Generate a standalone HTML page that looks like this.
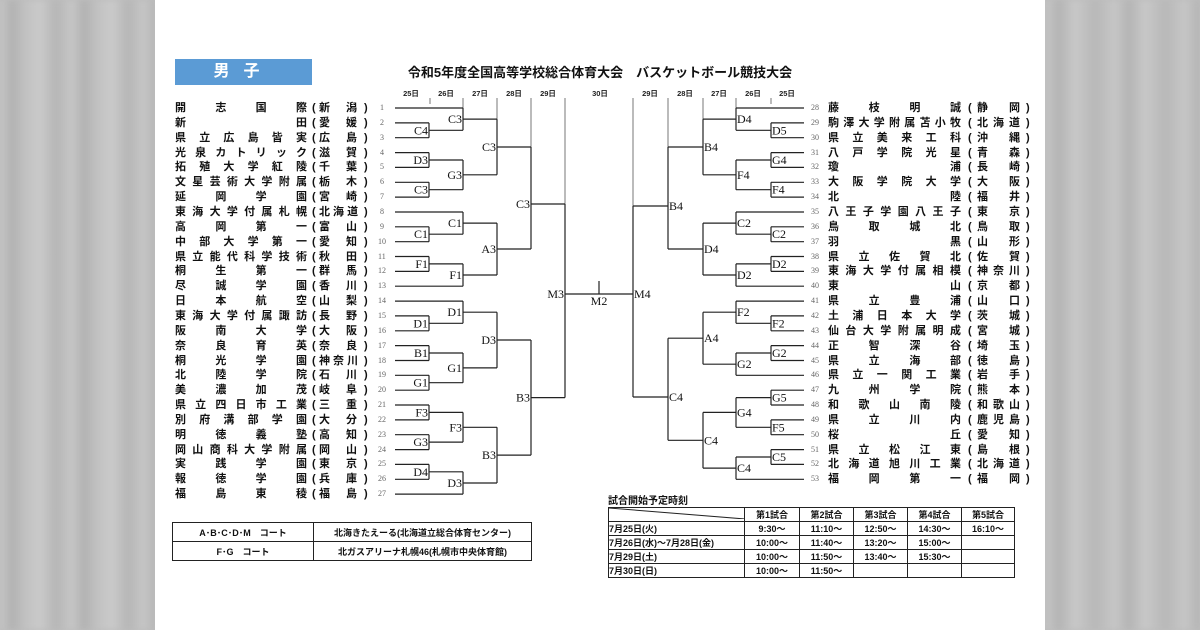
<!DOCTYPE html>
<html><head><meta charset="utf-8">
<style>
*{margin:0;padding:0}
body{width:1200px;height:630px;position:relative;overflow:hidden;background:#bdbdbd;font-family:"Liberation Sans","Noto Sans CJK JP",sans-serif}
.bgl{position:absolute;top:0;left:0;width:155px;height:630px;background:repeating-linear-gradient(90deg,#c6c6c6 0,#b2b2b2 12px,#c2c2c2 26px,#cacaca 40px,#b6b6b6 56px,#c6c6c6 72px);filter:blur(3px)}
.bgr{position:absolute;top:0;left:1045px;width:155px;height:630px;background:repeating-linear-gradient(90deg,#c6c6c6 0,#b4b4b4 14px,#c8c8c8 30px,#b8b8b8 50px,#c6c6c6 70px);filter:blur(3px)}
.page{position:absolute;left:155px;top:0;width:890px;height:630px;background:#fff}
.blue{position:absolute;left:175px;top:59px;width:137px;height:26px;background:#5b9bd5;color:#fff;font-weight:bold;font-size:16px;line-height:26px;text-align:center;letter-spacing:14px}
.title{position:absolute;left:300px;width:600px;top:64px;text-align:center;font-weight:bold;font-size:13px;line-height:18px;color:#111}
.r{position:absolute;height:16px;line-height:16px;font-size:11px;font-weight:600;color:#111;white-space:nowrap}
.j{text-align:justify;text-align-last:justify}
.num{position:absolute;font-family:"Liberation Serif",serif;font-size:8px;color:#666;line-height:16px;height:16px}
table{border-collapse:collapse;position:absolute}
td{border:1px solid #222;font-size:9px;font-weight:bold;text-align:center;padding:0;color:#111}
</style></head><body>
<div class="bgl"></div><div class="bgr"></div>
<div class="page"></div>
<div class="blue">男子</div>
<div class="title">令和5年度全国高等学校総合体育大会　バスケットボール競技大会</div>

<svg style="position:absolute;left:0;top:0" width="1200" height="630" font-family="Liberation Serif,serif">
<g font-family="Liberation Sans,Noto Sans CJK JP,sans-serif" font-size="7.5" font-weight="bold" fill="#222" text-anchor="middle">
<text x="411" y="96">25日</text><text x="446" y="96">26日</text><text x="480" y="96">27日</text><text x="514" y="96">28日</text><text x="548" y="96">29日</text><text x="600" y="96">30日</text>
<text x="650" y="96">29日</text><text x="685" y="96">28日</text><text x="719" y="96">27日</text><text x="753" y="96">26日</text><text x="787" y="96">25日</text>
</g>
<g stroke="#777" stroke-width="1" fill="none">
<path d="M430 98V104M463 98V108M497 98V119M531 98V147M565 98V204M633 98V206M668 98V147M703 98V119M736 98V108M771 98V104"/>
</g>
<g stroke="#222" stroke-width="1.2" fill="none">
<path d="M395 108H463M395 122.9H429M395 137.7H429M395 152.6H429M395 167.4H429M395 182.3H429M395 197.1H429M395 212H463M395 226.8H429M395 241.7H429M395 256.5H429M395 271.4H429M395 286.2H463M395 301.1H463M395 315.9H429M395 330.8H429M395 345.6H429M395 360.5H429M395 375.3H429M395 390.2H429M395 405H429M395 419.9H429M395 434.7H429M395 449.6H429M395 464.4H429M395 479.3H429M395 494.1H463"/>
<path d="M429 122.9V137.7M429 130.3H463M429 152.6V167.4M429 160H463M429 182.3V197.1M429 189.7H463M429 226.8V241.7M429 234.2H463M429 256.5V271.4M429 263.9H463M429 315.9V330.8M429 323.3H463M429 345.6V360.5M429 353H463M429 375.3V390.2M429 382.7H463M429 405V419.9M429 412.4H463M429 434.7V449.6M429 442.1H463M429 464.4V479.3M429 471.8H463"/>
<path d="M463 108V130.3M463 119.1H497M463 160V189.7M463 174.8H497M463 212V234.2M463 223.1H497M463 263.9V286.2M463 275H497M463 301.1V323.3M463 312.2H497M463 353V382.7M463 367.9H497M463 412.4V442.1M463 427.3H497M463 471.8V494.1M463 483H497"/>
<path d="M497 119.1V174.8M497 147H531M497 223.1V275M497 249H531M497 312.2V367.9M497 340H531M497 427.3V483M497 455.1H531"/>
<path d="M531 147V249M531 204H565M531 340V455.1M531 397.6H565"/>
<path d="M565 204V397.6M565 294H633M599 281V294M633 206V397M633 206H668M633 397H668"/>
<path d="M804 108H736M804 122.9H771M804 137.7H771M804 152.6H771M804 167.4H771M804 182.3H771M804 197.1H771M804 212H736M804 226.8H771M804 241.7H771M804 256.5H771M804 271.4H771M804 286.2H736M804 301.1H736M804 315.9H771M804 330.8H771M804 345.6H771M804 360.5H771M804 375.3H736M804 390.2H771M804 405H771M804 419.9H771M804 434.7H771M804 449.6H771M804 464.4H771M804 479.3H736"/>
<path d="M771 122.9V137.7M771 130.3H736M771 152.6V167.4M771 160H736M771 182.3V197.1M771 189.7H736M771 226.8V241.7M771 234.2H736M771 256.5V271.4M771 263.9H736M771 315.9V330.8M771 323.3H736M771 345.6V360.5M771 353H736M771 390.2V405M771 397.6H736M771 419.9V434.7M771 427.3H736M771 449.6V464.4M771 457H736"/>
<path d="M736 108V130.3M736 119.1H703M736 160V189.7M736 174.8H703M736 212V234.2M736 223.1H703M736 263.9V286.2M736 275H703M736 301.1V323.3M736 312.2H703M736 353V375.3M736 364.2H703M736 397.6V427.3M736 412.4H703M736 457V479.3M736 468.1H703"/>
<path d="M703 119.1V174.8M703 147H668M703 223.1V275M703 249H668M703 312.2V364.2M703 338.2H668M703 412.4V468.1M703 440.3H668"/>
<path d="M668 147V249M668 338.2V440.3"/>
</g>
<g font-size="12" fill="#111" text-anchor="end" dominant-baseline="central">
<text x="428" y="130.3">C4</text><text x="428" y="160">D3</text><text x="428" y="189.7">C3</text><text x="428" y="234.2">C1</text><text x="428" y="263.9">F1</text><text x="428" y="323.3">D1</text><text x="428" y="353">B1</text><text x="428" y="382.7">G1</text><text x="428" y="412.4">F3</text><text x="428" y="442.1">G3</text><text x="428" y="471.8">D4</text>
<text x="462" y="119.1">C3</text><text x="462" y="174.8">G3</text><text x="462" y="223.1">C1</text><text x="462" y="275">F1</text><text x="462" y="312.2">D1</text><text x="462" y="367.9">G1</text><text x="462" y="427.3">F3</text><text x="462" y="483">D3</text>
<text x="496" y="147">C3</text><text x="496" y="249">A3</text><text x="496" y="340">D3</text><text x="496" y="455.1">B3</text>
<text x="530" y="204">C3</text><text x="530" y="397.6">B3</text>
<text x="564" y="294">M3</text>
</g>
<text x="599" y="301" font-size="12" fill="#111" text-anchor="middle" dominant-baseline="central">M2</text>
<g font-size="12" fill="#111" text-anchor="start" dominant-baseline="central">
<text x="772" y="130.3">D5</text><text x="772" y="160">G4</text><text x="772" y="189.7">F4</text><text x="772" y="234.2">C2</text><text x="772" y="263.9">D2</text><text x="772" y="323.3">F2</text><text x="772" y="353">G2</text><text x="772" y="397.6">G5</text><text x="772" y="427.3">F5</text><text x="772" y="457">C5</text>
<text x="737" y="119.1">D4</text><text x="737" y="174.8">F4</text><text x="737" y="223.1">C2</text><text x="737" y="275">D2</text><text x="737" y="312.2">F2</text><text x="737" y="364.2">G2</text><text x="737" y="412.4">G4</text><text x="737" y="468.1">C4</text>
<text x="704" y="147">B4</text><text x="704" y="249">D4</text><text x="704" y="338.2">A4</text><text x="704" y="440.3">C4</text>
<text x="669" y="206">B4</text><text x="669" y="397">C4</text>
<text x="634" y="294">M4</text>
</g>
</svg>

<div class="r j" style="left:175px;top:100px;width:132px">開 志 国 際</div><div class="r" style="left:312px;top:100px">(</div><div class="r j" style="left:319px;top:100px;width:38px">新 潟</div><div class="r" style="left:364px;top:100px">)</div><div class="num" style="left:380px;top:100px">1</div>
<div class="r j" style="left:175px;top:114.9px;width:132px">新 田</div><div class="r" style="left:312px;top:114.9px">(</div><div class="r j" style="left:319px;top:114.9px;width:38px">愛 媛</div><div class="r" style="left:364px;top:114.9px">)</div><div class="num" style="left:380px;top:114.9px">2</div>
<div class="r j" style="left:175px;top:129.7px;width:132px">県 立 広 島 皆 実</div><div class="r" style="left:312px;top:129.7px">(</div><div class="r j" style="left:319px;top:129.7px;width:38px">広 島</div><div class="r" style="left:364px;top:129.7px">)</div><div class="num" style="left:380px;top:129.7px">3</div>
<div class="r j" style="left:175px;top:144.6px;width:132px">光 泉 カ ト リ ッ ク</div><div class="r" style="left:312px;top:144.6px">(</div><div class="r j" style="left:319px;top:144.6px;width:38px">滋 賀</div><div class="r" style="left:364px;top:144.6px">)</div><div class="num" style="left:380px;top:144.6px">4</div>
<div class="r j" style="left:175px;top:159.4px;width:132px">拓 殖 大 学 紅 陵</div><div class="r" style="left:312px;top:159.4px">(</div><div class="r j" style="left:319px;top:159.4px;width:38px">千 葉</div><div class="r" style="left:364px;top:159.4px">)</div><div class="num" style="left:380px;top:159.4px">5</div>
<div class="r j" style="left:175px;top:174.3px;width:132px">文 星 芸 術 大 学 附 属</div><div class="r" style="left:312px;top:174.3px">(</div><div class="r j" style="left:319px;top:174.3px;width:38px">栃 木</div><div class="r" style="left:364px;top:174.3px">)</div><div class="num" style="left:380px;top:174.3px">6</div>
<div class="r j" style="left:175px;top:189.1px;width:132px">延 岡 学 園</div><div class="r" style="left:312px;top:189.1px">(</div><div class="r j" style="left:319px;top:189.1px;width:38px">宮 崎</div><div class="r" style="left:364px;top:189.1px">)</div><div class="num" style="left:380px;top:189.1px">7</div>
<div class="r j" style="left:175px;top:204px;width:132px">東 海 大 学 付 属 札 幌</div><div class="r" style="left:312px;top:204px">(</div><div class="r j" style="left:319px;top:204px;width:38px">北 海 道</div><div class="r" style="left:364px;top:204px">)</div><div class="num" style="left:380px;top:204px">8</div>
<div class="r j" style="left:175px;top:218.8px;width:132px">高 岡 第 一</div><div class="r" style="left:312px;top:218.8px">(</div><div class="r j" style="left:319px;top:218.8px;width:38px">富 山</div><div class="r" style="left:364px;top:218.8px">)</div><div class="num" style="left:380px;top:218.8px">9</div>
<div class="r j" style="left:175px;top:233.7px;width:132px">中 部 大 学 第 一</div><div class="r" style="left:312px;top:233.7px">(</div><div class="r j" style="left:319px;top:233.7px;width:38px">愛 知</div><div class="r" style="left:364px;top:233.7px">)</div><div class="num" style="left:378px;top:233.7px">10</div>
<div class="r j" style="left:175px;top:248.5px;width:132px">県 立 能 代 科 学 技 術</div><div class="r" style="left:312px;top:248.5px">(</div><div class="r j" style="left:319px;top:248.5px;width:38px">秋 田</div><div class="r" style="left:364px;top:248.5px">)</div><div class="num" style="left:378px;top:248.5px">11</div>
<div class="r j" style="left:175px;top:263.4px;width:132px">桐 生 第 一</div><div class="r" style="left:312px;top:263.4px">(</div><div class="r j" style="left:319px;top:263.4px;width:38px">群 馬</div><div class="r" style="left:364px;top:263.4px">)</div><div class="num" style="left:378px;top:263.4px">12</div>
<div class="r j" style="left:175px;top:278.2px;width:132px">尽 誠 学 園</div><div class="r" style="left:312px;top:278.2px">(</div><div class="r j" style="left:319px;top:278.2px;width:38px">香 川</div><div class="r" style="left:364px;top:278.2px">)</div><div class="num" style="left:378px;top:278.2px">13</div>
<div class="r j" style="left:175px;top:293.1px;width:132px">日 本 航 空</div><div class="r" style="left:312px;top:293.1px">(</div><div class="r j" style="left:319px;top:293.1px;width:38px">山 梨</div><div class="r" style="left:364px;top:293.1px">)</div><div class="num" style="left:378px;top:293.1px">14</div>
<div class="r j" style="left:175px;top:307.9px;width:132px">東 海 大 学 付 属 諏 訪</div><div class="r" style="left:312px;top:307.9px">(</div><div class="r j" style="left:319px;top:307.9px;width:38px">長 野</div><div class="r" style="left:364px;top:307.9px">)</div><div class="num" style="left:378px;top:307.9px">15</div>
<div class="r j" style="left:175px;top:322.8px;width:132px">阪 南 大 学</div><div class="r" style="left:312px;top:322.8px">(</div><div class="r j" style="left:319px;top:322.8px;width:38px">大 阪</div><div class="r" style="left:364px;top:322.8px">)</div><div class="num" style="left:378px;top:322.8px">16</div>
<div class="r j" style="left:175px;top:337.6px;width:132px">奈 良 育 英</div><div class="r" style="left:312px;top:337.6px">(</div><div class="r j" style="left:319px;top:337.6px;width:38px">奈 良</div><div class="r" style="left:364px;top:337.6px">)</div><div class="num" style="left:378px;top:337.6px">17</div>
<div class="r j" style="left:175px;top:352.5px;width:132px">桐 光 学 園</div><div class="r" style="left:312px;top:352.5px">(</div><div class="r j" style="left:319px;top:352.5px;width:38px">神 奈 川</div><div class="r" style="left:364px;top:352.5px">)</div><div class="num" style="left:378px;top:352.5px">18</div>
<div class="r j" style="left:175px;top:367.3px;width:132px">北 陸 学 院</div><div class="r" style="left:312px;top:367.3px">(</div><div class="r j" style="left:319px;top:367.3px;width:38px">石 川</div><div class="r" style="left:364px;top:367.3px">)</div><div class="num" style="left:378px;top:367.3px">19</div>
<div class="r j" style="left:175px;top:382.2px;width:132px">美 濃 加 茂</div><div class="r" style="left:312px;top:382.2px">(</div><div class="r j" style="left:319px;top:382.2px;width:38px">岐 阜</div><div class="r" style="left:364px;top:382.2px">)</div><div class="num" style="left:378px;top:382.2px">20</div>
<div class="r j" style="left:175px;top:397px;width:132px">県 立 四 日 市 工 業</div><div class="r" style="left:312px;top:397px">(</div><div class="r j" style="left:319px;top:397px;width:38px">三 重</div><div class="r" style="left:364px;top:397px">)</div><div class="num" style="left:378px;top:397px">21</div>
<div class="r j" style="left:175px;top:411.9px;width:132px">別 府 溝 部 学 園</div><div class="r" style="left:312px;top:411.9px">(</div><div class="r j" style="left:319px;top:411.9px;width:38px">大 分</div><div class="r" style="left:364px;top:411.9px">)</div><div class="num" style="left:378px;top:411.9px">22</div>
<div class="r j" style="left:175px;top:426.7px;width:132px">明 徳 義 塾</div><div class="r" style="left:312px;top:426.7px">(</div><div class="r j" style="left:319px;top:426.7px;width:38px">高 知</div><div class="r" style="left:364px;top:426.7px">)</div><div class="num" style="left:378px;top:426.7px">23</div>
<div class="r j" style="left:175px;top:441.6px;width:132px">岡 山 商 科 大 学 附 属</div><div class="r" style="left:312px;top:441.6px">(</div><div class="r j" style="left:319px;top:441.6px;width:38px">岡 山</div><div class="r" style="left:364px;top:441.6px">)</div><div class="num" style="left:378px;top:441.6px">24</div>
<div class="r j" style="left:175px;top:456.4px;width:132px">実 践 学 園</div><div class="r" style="left:312px;top:456.4px">(</div><div class="r j" style="left:319px;top:456.4px;width:38px">東 京</div><div class="r" style="left:364px;top:456.4px">)</div><div class="num" style="left:378px;top:456.4px">25</div>
<div class="r j" style="left:175px;top:471.3px;width:132px">報 徳 学 園</div><div class="r" style="left:312px;top:471.3px">(</div><div class="r j" style="left:319px;top:471.3px;width:38px">兵 庫</div><div class="r" style="left:364px;top:471.3px">)</div><div class="num" style="left:378px;top:471.3px">26</div>
<div class="r j" style="left:175px;top:486.1px;width:132px">福 島 東 稜</div><div class="r" style="left:312px;top:486.1px">(</div><div class="r j" style="left:319px;top:486.1px;width:38px">福 島</div><div class="r" style="left:364px;top:486.1px">)</div><div class="num" style="left:378px;top:486.1px">27</div>

<div class="num" style="left:811px;top:100px">28</div><div class="r j" style="left:828px;top:100px;width:133px">藤 枝 明 誠</div><div class="r" style="left:968px;top:100px">(</div><div class="r j" style="left:977px;top:100px;width:43px">静 岡</div><div class="r" style="left:1026px;top:100px">)</div>
<div class="num" style="left:811px;top:114.9px">29</div><div class="r j" style="left:828px;top:114.9px;width:133px">駒 澤 大 学 附 属 苫 小 牧</div><div class="r" style="left:968px;top:114.9px">(</div><div class="r j" style="left:977px;top:114.9px;width:43px">北 海 道</div><div class="r" style="left:1026px;top:114.9px">)</div>
<div class="num" style="left:811px;top:129.7px">30</div><div class="r j" style="left:828px;top:129.7px;width:133px">県 立 美 来 工 科</div><div class="r" style="left:968px;top:129.7px">(</div><div class="r j" style="left:977px;top:129.7px;width:43px">沖 縄</div><div class="r" style="left:1026px;top:129.7px">)</div>
<div class="num" style="left:811px;top:144.6px">31</div><div class="r j" style="left:828px;top:144.6px;width:133px">八 戸 学 院 光 星</div><div class="r" style="left:968px;top:144.6px">(</div><div class="r j" style="left:977px;top:144.6px;width:43px">青 森</div><div class="r" style="left:1026px;top:144.6px">)</div>
<div class="num" style="left:811px;top:159.4px">32</div><div class="r j" style="left:828px;top:159.4px;width:133px">瓊 浦</div><div class="r" style="left:968px;top:159.4px">(</div><div class="r j" style="left:977px;top:159.4px;width:43px">長 崎</div><div class="r" style="left:1026px;top:159.4px">)</div>
<div class="num" style="left:811px;top:174.3px">33</div><div class="r j" style="left:828px;top:174.3px;width:133px">大 阪 学 院 大 学</div><div class="r" style="left:968px;top:174.3px">(</div><div class="r j" style="left:977px;top:174.3px;width:43px">大 阪</div><div class="r" style="left:1026px;top:174.3px">)</div>
<div class="num" style="left:811px;top:189.1px">34</div><div class="r j" style="left:828px;top:189.1px;width:133px">北 陸</div><div class="r" style="left:968px;top:189.1px">(</div><div class="r j" style="left:977px;top:189.1px;width:43px">福 井</div><div class="r" style="left:1026px;top:189.1px">)</div>
<div class="num" style="left:811px;top:204px">35</div><div class="r j" style="left:828px;top:204px;width:133px">八 王 子 学 園 八 王 子</div><div class="r" style="left:968px;top:204px">(</div><div class="r j" style="left:977px;top:204px;width:43px">東 京</div><div class="r" style="left:1026px;top:204px">)</div>
<div class="num" style="left:811px;top:218.8px">36</div><div class="r j" style="left:828px;top:218.8px;width:133px">鳥 取 城 北</div><div class="r" style="left:968px;top:218.8px">(</div><div class="r j" style="left:977px;top:218.8px;width:43px">鳥 取</div><div class="r" style="left:1026px;top:218.8px">)</div>
<div class="num" style="left:811px;top:233.7px">37</div><div class="r j" style="left:828px;top:233.7px;width:133px">羽 黒</div><div class="r" style="left:968px;top:233.7px">(</div><div class="r j" style="left:977px;top:233.7px;width:43px">山 形</div><div class="r" style="left:1026px;top:233.7px">)</div>
<div class="num" style="left:811px;top:248.5px">38</div><div class="r j" style="left:828px;top:248.5px;width:133px">県 立 佐 賀 北</div><div class="r" style="left:968px;top:248.5px">(</div><div class="r j" style="left:977px;top:248.5px;width:43px">佐 賀</div><div class="r" style="left:1026px;top:248.5px">)</div>
<div class="num" style="left:811px;top:263.4px">39</div><div class="r j" style="left:828px;top:263.4px;width:133px">東 海 大 学 付 属 相 模</div><div class="r" style="left:968px;top:263.4px">(</div><div class="r j" style="left:977px;top:263.4px;width:43px">神 奈 川</div><div class="r" style="left:1026px;top:263.4px">)</div>
<div class="num" style="left:811px;top:278.2px">40</div><div class="r j" style="left:828px;top:278.2px;width:133px">東 山</div><div class="r" style="left:968px;top:278.2px">(</div><div class="r j" style="left:977px;top:278.2px;width:43px">京 都</div><div class="r" style="left:1026px;top:278.2px">)</div>
<div class="num" style="left:811px;top:293.1px">41</div><div class="r j" style="left:828px;top:293.1px;width:133px">県 立 豊 浦</div><div class="r" style="left:968px;top:293.1px">(</div><div class="r j" style="left:977px;top:293.1px;width:43px">山 口</div><div class="r" style="left:1026px;top:293.1px">)</div>
<div class="num" style="left:811px;top:307.9px">42</div><div class="r j" style="left:828px;top:307.9px;width:133px">土 浦 日 本 大 学</div><div class="r" style="left:968px;top:307.9px">(</div><div class="r j" style="left:977px;top:307.9px;width:43px">茨 城</div><div class="r" style="left:1026px;top:307.9px">)</div>
<div class="num" style="left:811px;top:322.8px">43</div><div class="r j" style="left:828px;top:322.8px;width:133px">仙 台 大 学 附 属 明 成</div><div class="r" style="left:968px;top:322.8px">(</div><div class="r j" style="left:977px;top:322.8px;width:43px">宮 城</div><div class="r" style="left:1026px;top:322.8px">)</div>
<div class="num" style="left:811px;top:337.6px">44</div><div class="r j" style="left:828px;top:337.6px;width:133px">正 智 深 谷</div><div class="r" style="left:968px;top:337.6px">(</div><div class="r j" style="left:977px;top:337.6px;width:43px">埼 玉</div><div class="r" style="left:1026px;top:337.6px">)</div>
<div class="num" style="left:811px;top:352.5px">45</div><div class="r j" style="left:828px;top:352.5px;width:133px">県 立 海 部</div><div class="r" style="left:968px;top:352.5px">(</div><div class="r j" style="left:977px;top:352.5px;width:43px">徳 島</div><div class="r" style="left:1026px;top:352.5px">)</div>
<div class="num" style="left:811px;top:367.3px">46</div><div class="r j" style="left:828px;top:367.3px;width:133px">県 立 一 関 工 業</div><div class="r" style="left:968px;top:367.3px">(</div><div class="r j" style="left:977px;top:367.3px;width:43px">岩 手</div><div class="r" style="left:1026px;top:367.3px">)</div>
<div class="num" style="left:811px;top:382.2px">47</div><div class="r j" style="left:828px;top:382.2px;width:133px">九 州 学 院</div><div class="r" style="left:968px;top:382.2px">(</div><div class="r j" style="left:977px;top:382.2px;width:43px">熊 本</div><div class="r" style="left:1026px;top:382.2px">)</div>
<div class="num" style="left:811px;top:397px">48</div><div class="r j" style="left:828px;top:397px;width:133px">和 歌 山 南 陵</div><div class="r" style="left:968px;top:397px">(</div><div class="r j" style="left:977px;top:397px;width:43px">和 歌 山</div><div class="r" style="left:1026px;top:397px">)</div>
<div class="num" style="left:811px;top:411.9px">49</div><div class="r j" style="left:828px;top:411.9px;width:133px">県 立 川 内</div><div class="r" style="left:968px;top:411.9px">(</div><div class="r j" style="left:977px;top:411.9px;width:43px">鹿 児 島</div><div class="r" style="left:1026px;top:411.9px">)</div>
<div class="num" style="left:811px;top:426.7px">50</div><div class="r j" style="left:828px;top:426.7px;width:133px">桜 丘</div><div class="r" style="left:968px;top:426.7px">(</div><div class="r j" style="left:977px;top:426.7px;width:43px">愛 知</div><div class="r" style="left:1026px;top:426.7px">)</div>
<div class="num" style="left:811px;top:441.6px">51</div><div class="r j" style="left:828px;top:441.6px;width:133px">県 立 松 江 東</div><div class="r" style="left:968px;top:441.6px">(</div><div class="r j" style="left:977px;top:441.6px;width:43px">島 根</div><div class="r" style="left:1026px;top:441.6px">)</div>
<div class="num" style="left:811px;top:456.4px">52</div><div class="r j" style="left:828px;top:456.4px;width:133px">北 海 道 旭 川 工 業</div><div class="r" style="left:968px;top:456.4px">(</div><div class="r j" style="left:977px;top:456.4px;width:43px">北 海 道</div><div class="r" style="left:1026px;top:456.4px">)</div>
<div class="num" style="left:811px;top:471.3px">53</div><div class="r j" style="left:828px;top:471.3px;width:133px">福 岡 第 一</div><div class="r" style="left:968px;top:471.3px">(</div><div class="r j" style="left:977px;top:471.3px;width:43px">福 岡</div><div class="r" style="left:1026px;top:471.3px">)</div>

<table style="left:172px;top:522px;width:360px;border:1.5px solid #222">
<tr style="height:19px"><td style="width:140px">A･B･C･D･M　コート</td><td>北海きたえーる(北海道立総合体育センター)</td></tr>
<tr style="height:19px"><td>F･G　コート</td><td>北ガスアリーナ札幌46(札幌市中央体育館)</td></tr>
</table>

<div style="position:absolute;left:608px;top:496px;font-size:10px;font-weight:bold;line-height:12px;color:#111">試合開始予定時刻</div>
<table style="left:608px;top:507px;width:407px">
<tr style="height:11px"><td style="width:135px;position:relative;overflow:hidden"><svg style="position:absolute;left:0;top:0" width="136" height="11"><line x1="0" y1="0" x2="136" y2="11" stroke="#222" stroke-width="1"/></svg></td><td style="width:54px">第1試合</td><td style="width:53px">第2試合</td><td style="width:53px">第3試合</td><td style="width:53px">第4試合</td><td>第5試合</td></tr>
<tr style="height:11px"><td style="text-align:left">7月25日(火)</td><td>9:30～</td><td>11:10～</td><td>12:50～</td><td>14:30～</td><td>16:10～</td></tr>
<tr style="height:11px"><td style="text-align:left">7月26日(水)～7月28日(金)</td><td>10:00～</td><td>11:40～</td><td>13:20～</td><td>15:00～</td><td></td></tr>
<tr style="height:11px"><td style="text-align:left">7月29日(土)</td><td>10:00～</td><td>11:50～</td><td>13:40～</td><td>15:30～</td><td></td></tr>
<tr style="height:11px"><td style="text-align:left">7月30日(日)</td><td>10:00～</td><td>11:50～</td><td></td><td></td><td></td></tr>
</table>
</body></html>
